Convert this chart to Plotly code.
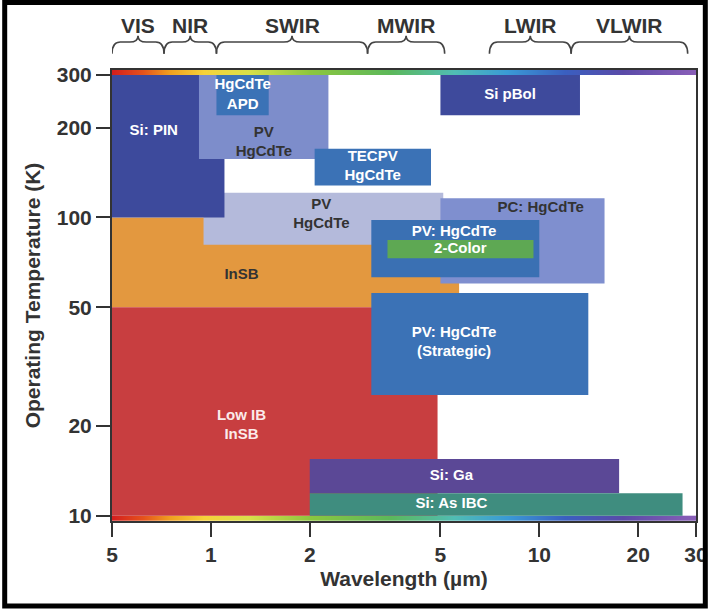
import math
import plotly.graph_objects as go

# ---------------- data ----------------
# Detector technologies: wavelength span (um) and operating temperature span (K)
DET_NAMES = ["InSB", "Low IB InSB", "PV HgCdTe (mid)", "Si: PIN", "PV HgCdTe (upper)",
             "HgCdTe APD", "TECPV HgCdTe", "PC: HgCdTe", "PV: HgCdTe", "2-Color",
             "Si pBol", "PV: HgCdTe (Strategic)", "Si: Ga", "Si: As IBC"]
DET_WL_MIN = [0.5, 0.5, 0.95, 0.5, 0.92, 1.04, 2.07, 5.0, 3.08, 3.45, 5.0, 3.08, 2.0, 2.0]
DET_WL_MAX = [5.7, 4.9, 5.1, 1.1, 2.28, 1.5, 4.68, 15.8, 10.0, 9.6, 13.3, 14.1, 17.5, 27.3]
DET_T_MIN = [50, 10, 81, 100, 157, 220, 128, 60, 63, 73, 220, 25.4, 11.9, 10]
DET_T_MAX = [100, 50, 121, 300, 300, 300, 170, 116, 98, 84, 300, 55.8, 15.5, 11.9]
DET_LABELS = ["InSB", "Low IB<br>InSB", "PV<br>HgCdTe", "Si: PIN", "PV<br>HgCdTe",
              "HgCdTe<br>APD", "TECPV<br>HgCdTe", "PC: HgCdTe", "PV: HgCdTe", "2-Color",
              "Si pBol", "PV: HgCdTe<br>(Strategic)", "Si: Ga", "Si: As IBC"]
LABEL_WL = [1.24, 1.24, 2.17, 0.67, 1.45, 1.25, 3.11, 10.1, 5.5, 5.75, 8.15, 5.5, 5.4, 5.4]
LABEL_T = [64, 20, 102, 195, 178, 257, 148, 107, 89, 78.3, 257, 38, 13.6, 10.9]

# Spectral bands (um)
BAND_NAMES = ["VIS", "NIR", "SWIR", "MWIR", "LWIR", "VLWIR"]
BAND_START = [0.5, 0.72, 1.04, 3.0, 7.05, 12.5]
BAND_END = [0.72, 1.04, 3.0, 5.15, 12.5, 28.3]

# Axis ticks
X_TICKS = [0.5, 1, 2, 5, 10, 20, 30]
X_TICK_TEXT = ["5", "1", "2", "5", "10", "20", "30"]
Y_TICKS = [10, 20, 50, 100, 200, 300]

# Decorative spectrum strip (wavelength stops)
STRIP_WL = [0.5, 0.62, 0.75, 0.95, 1.3, 2.0, 3.5, 5.5, 8, 12, 18, 30]

# ---------------- styles ----------------
DET_COLORS = ["#e3983f", "#c83e40", "#b4badb", "#3d4a9c", "#7d8dcb",
              "#3b72b6", "#3b72b6", "#7f8fcf", "#3a70b3", "#5ea853",
              "#3e4a9c", "#3b72b6", "#5b4896", "#3f8d7f"]
LABEL_COLORS = ["#333333", "#fbeaea", "#333333", "white", "#333333",
                "white", "white", "#333333", "white", "white",
                "white", "white", "white", "white"]
STRIP_COLORS = ["#d41e1e", "#e5531c", "#f0a020", "#f6d23a", "#d9e04a", "#8cc63f",
                "#5cb85a", "#50bdb4", "#3a9ad6", "#3a5fc0", "#5a4aa8", "#8a5fb8"]

FONT = "Liberation Sans, Arial, sans-serif"
DARK = "#333333"

W, H = 720, 609
ML, MR, MT, MB = 112, 12, 70, 88
PW, PH = W - ML - MR, H - MT - MB

fig = go.Figure()

# detector rectangles
for i in range(len(DET_NAMES)):
    x0, x1 = DET_WL_MIN[i], DET_WL_MAX[i]
    y0, y1 = DET_T_MIN[i], DET_T_MAX[i]
    fig.add_trace(go.Scatter(
        x=[x0, x1, x1, x0, x0], y=[y0, y0, y1, y1, y0],
        mode="lines", fill="toself", fillcolor=DET_COLORS[i],
        line=dict(width=0, color=DET_COLORS[i]),
        name=DET_NAMES[i], hoverinfo="name", showlegend=False))

# labels
for i in range(len(DET_NAMES)):
    fig.add_trace(go.Scatter(
        x=[LABEL_WL[i]], y=[LABEL_T[i]], mode="text",
        text=["<b>" + DET_LABELS[i] + "</b>"],
        textfont=dict(family=FONT, size=15, color=LABEL_COLORS[i]),
        textposition="middle center", hoverinfo="skip", showlegend=False))

# spectrum strips (top and bottom)
n = len(STRIP_WL)
cs = [[k / (n - 1), c] for k, c in enumerate(STRIP_COLORS)]
zrow = list(range(n))
for yedges in ([300, 306, 320], [9.0, 9.7, 10.0]):
    fig.add_trace(go.Heatmap(
        x=STRIP_WL, y=yedges, z=[zrow, zrow], colorscale=cs, zmin=0, zmax=n - 1,
        zsmooth="best", showscale=False, hoverinfo="skip"))

# band braces and labels
Y_END, Y_BAR, Y_TIP, Y_LAB = 1.036, 1.062, 1.076, 1.098
k = 10 ** 0.025
for name, a, b in zip(BAND_NAMES, BAND_START, BAND_END):
    m = math.sqrt(a * b)
    path = (f"M {a},{Y_END} Q {a},{Y_BAR} {a*k},{Y_BAR} L {m/k},{Y_BAR} "
            f"Q {m},{Y_BAR} {m},{Y_TIP} Q {m},{Y_BAR} {m*k},{Y_BAR} "
            f"L {b/k},{Y_BAR} Q {b},{Y_BAR} {b},{Y_END}")
    fig.add_shape(type="path", path=path, xref="x", yref="paper",
                  line=dict(color="#444444", width=1.6))
    fig.add_annotation(x=math.log10(m), y=Y_LAB, xref="x", yref="paper",
                       text="<b>" + name + "</b>", showarrow=False,
                       font=dict(family=FONT, size=21, color=DARK),
                       xanchor="center", yanchor="middle")

# outer black frame of the picture
fig.add_shape(type="rect", xref="paper", yref="paper",
              x0=(2.5 - ML) / PW, x1=(W - 2.5 - ML) / PW,
              y0=(MT + PH - (H - 3)) / PH, y1=(MT + PH - 2.5) / PH,
              line=dict(color="black", width=5), fillcolor="rgba(0,0,0,0)")

axis_common = dict(
    showgrid=False, zeroline=False, showline=True, linecolor=DARK, linewidth=2,
    mirror=True, ticks="outside", ticklen=14, tickwidth=2, tickcolor=DARK,
    tickfont=dict(family=FONT, size=21, color=DARK, weight="bold"))

fig.update_layout(
    width=W, height=H, autosize=False,
    margin=dict(l=ML, r=MR, t=MT, b=MB),
    paper_bgcolor="white", plot_bgcolor="white",
    xaxis=dict(type="log", range=[math.log10(0.5), math.log10(30)],
               tickvals=X_TICKS, ticktext=X_TICK_TEXT,
               title=dict(text="<b>Wavelength (\u00b5m)</b>", standoff=6,
                          font=dict(family=FONT, size=21, color=DARK)),
               **axis_common),
    yaxis=dict(type="log", range=[math.log10(9.6), math.log10(312)],
               tickvals=Y_TICKS, ticktext=[str(v) for v in Y_TICKS],
               title=dict(text="<b>Operating Temperature (K)</b>", standoff=10,
                          font=dict(family=FONT, size=21, color=DARK)),
               **axis_common),
    showlegend=False,
)

fig.write_html("out.html", config={"responsive": False})
